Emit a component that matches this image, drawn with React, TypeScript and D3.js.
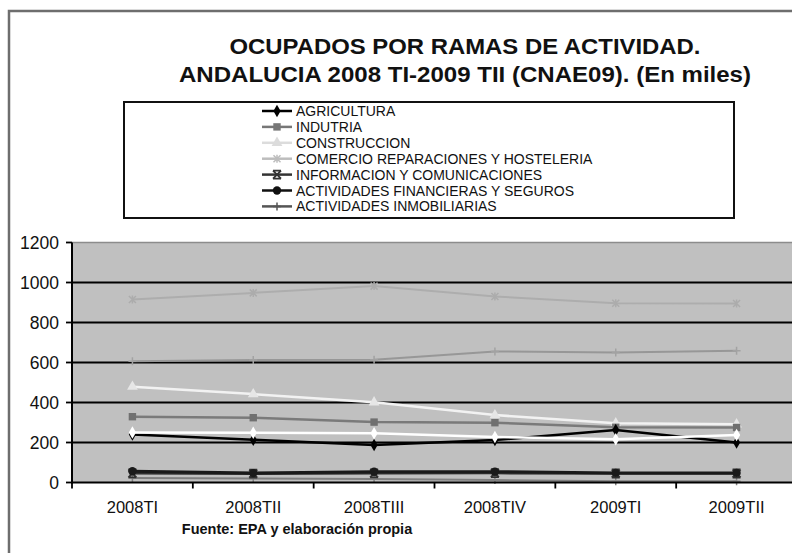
import React from 'react';
import * as d3 from 'd3';

const categories = ['2008TI', '2008TII', '2008TIII', '2008TIV', '2009TI', '2009TII'];
const agricultura = [240, 214, 188, 212, 262, 200];
const industria = [329, 324, 302, 299, 276, 275];
const construccion = [479, 442, 401, 337, 296, 291];
const comercio = [915, 948, 982, 930, 896, 895];
const informacion = [46, 44, 46, 47, 45, 45];
const financieras = [56, 47, 54, 54, 48, 48];
const inmobiliarias = [22, 20, 18, 12, 6, 6];
// series whose legend entries are cut off in the reference
const serieOculta1 = [606, 612, 614, 655, 650, 659];
const serieOculta2 = [250, 249, 246, 228, 216, 237];
const yTicks = [0, 200, 400, 600, 800, 1000, 1200];

const titleLines = ['OCUPADOS POR RAMAS DE ACTIVIDAD.', 'ANDALUCIA 2008 TI-2009 TII (CNAE09).  (En miles)'];
const sourceText = 'Fuente: EPA y elaboración propia';

type Marker = 'diamond' | 'square' | 'triangle' | 'star' | 'xbar' | 'circle' | 'plus';
interface Serie { name: string; values: number[]; stroke: string; fill: string; marker: Marker; width: number; legend: boolean; }

const series: Serie[] = [
  { name: 'COMERCIO REPARACIONES Y HOSTELERIA', values: comercio, stroke: '#adadad', fill: '#acacac', marker: 'star', width: 2, legend: true },
  { name: 'oculta1', values: serieOculta1, stroke: '#979797', fill: '#a2a2a2', marker: 'plus', width: 2, legend: false },
  { name: 'CONSTRUCCION', values: construccion, stroke: '#f2f2f2', fill: '#e6e6e6', marker: 'triangle', width: 2.5, legend: true },
  { name: 'INDUTRIA', values: industria, stroke: '#7a7a7a', fill: '#707070', marker: 'square', width: 2.5, legend: true },
  { name: 'AGRICULTURA', values: agricultura, stroke: '#000000', fill: '#000000', marker: 'diamond', width: 2.5, legend: true },
  { name: 'oculta2', values: serieOculta2, stroke: '#ffffff', fill: '#ffffff', marker: 'diamond', width: 2.5, legend: false },
  { name: 'ACTIVIDADES INMOBILIARIAS', values: inmobiliarias, stroke: '#808080', fill: '#808080', marker: 'plus', width: 2, legend: true },
  { name: 'INFORMACION Y COMUNICACIONES', values: informacion, stroke: '#303030', fill: '#303030', marker: 'xbar', width: 2.5, legend: true },
  { name: 'ACTIVIDADES FINANCIERAS Y SEGUROS', values: financieras, stroke: '#1a1a1a', fill: '#1a1a1a', marker: 'circle', width: 3, legend: true },
];

const legendOrder = ['AGRICULTURA', 'INDUTRIA', 'CONSTRUCCION', 'COMERCIO REPARACIONES Y HOSTELERIA', 'INFORMACION Y COMUNICACIONES', 'ACTIVIDADES FINANCIERAS Y SEGUROS', 'ACTIVIDADES INMOBILIARIAS'];
const legendStroke: Record<string, string> = {
  'AGRICULTURA': '#000', 'INDUTRIA': '#777', 'CONSTRUCCION': '#dcdcdc', 'COMERCIO REPARACIONES Y HOSTELERIA': '#bdbdbd',
  'INFORMACION Y COMUNICACIONES': '#333', 'ACTIVIDADES FINANCIERAS Y SEGUROS': '#111', 'ACTIVIDADES INMOBILIARIAS': '#555',
};

function MarkerShape({ kind, x, y, color }: { kind: Marker; x: number; y: number; color: string }) {
  const t = `translate(${x},${y})`;
  switch (kind) {
    case 'diamond':
      return <path transform={t} d={d3.symbol().type(d3.symbolDiamond).size(45)() as string} fill={color} />;
    case 'square':
      return <path transform={t} d={d3.symbol().type(d3.symbolSquare).size(55)() as string} fill={color} />;
    case 'triangle':
      return <path transform={t} d={d3.symbol().type(d3.symbolTriangle).size(50)() as string} fill={color} />;
    case 'circle':
      return <path transform={t} d={d3.symbol().type(d3.symbolCircle).size(55)() as string} fill={color} />;
    case 'plus':
      return <path transform={t} d="M-4,0H4M0,-4V4" stroke={color} strokeWidth={1.5} fill="none" />;
    case 'star':
      return <path transform={t} d="M-3.5,-3.5L3.5,3.5M-3.5,3.5L3.5,-3.5M0,-4V4" stroke={color} strokeWidth={1.5} fill="none" />;
    case 'xbar':
      return <path transform={t} d="M-4,-4L4,4M-4,4L4,-4M-4,-4H4M-4,4H4" stroke={color} strokeWidth={1.8} fill="none" />;
  }
}

export default function App() {
  const W = 792, H = 553;
  const left = 72, right = 797, top = 242.5, bottom = 482.5;
  const x = d3.scaleBand<string>().domain(categories).range([left, right]);
  const y = d3.scaleLinear().domain([0, 1200]).range([bottom, top]);
  const cx = (c: string) => (x(c) as number) + x.bandwidth() / 2;
  const line = d3.line<number>().x((_, i) => cx(categories[i])).y(v => y(v));
  const font = 'Liberation Sans, Arial, sans-serif';

  const legendX = 124, legendY = 102, legendW = 610, legendH = 116;
  const rowY0 = 111, rowStep = 15.9;
  const titleLens = [471, 572];

  return (
    <svg width={W} height={H} style={{ position: 'absolute', left: 0, top: 0, display: 'block', background: '#fff' }} fontFamily={font}>
      <rect x={0} y={0} width={W} height={H} fill="#fff" />
      <rect x={9} y={11} width={W + 20} height={H + 20} fill="none" stroke="#6e6e6e" strokeWidth={2.5} />
      {titleLines.map((t, i) => (
        <text key={i} x={465} y={54 + i * 28} textAnchor="middle" fontSize={22.5} fontWeight="bold" fill="#111"
          textLength={titleLens[i]} lengthAdjust="spacingAndGlyphs">{t}</text>
      ))}
      {/* legend */}
      <rect x={legendX} y={legendY} width={legendW} height={legendH} fill="#fff" stroke="#111" strokeWidth={2} />
      {legendOrder.map((name, i) => {
        const s = series.find(d => d.name === name)!;
        const ry = rowY0 + i * rowStep;
        return (
          <g key={name}>
            <line x1={262} x2={292} y1={ry} y2={ry} stroke={legendStroke[name]} strokeWidth={2.5} />
            <MarkerShape kind={s.marker} x={277} y={ry} color={legendStroke[name]} />
            <text x={296} y={ry + 5} fontSize={14} fill="#111">{name}</text>
          </g>
        );
      })}
      {/* plot area */}
      <rect x={left} y={top} width={right - left} height={bottom - top} fill="#c0c0c0" />
      <line x1={left} x2={right} y1={top} y2={top} stroke="#8c8c8c" strokeWidth={1.5} />
      {yTicks.filter(v => v > 0 && v < 1200).map(v => (
        <line key={v} x1={left} x2={right} y1={y(v)} y2={y(v)} stroke="#000" strokeWidth={1.8} />
      ))}
      {series.map(s => (
        <g key={s.name}>
          <path d={line(s.values) as string} fill="none" stroke={s.stroke} strokeWidth={s.width} strokeLinejoin="round" />
          {s.values.map((v, i) => (
            <MarkerShape key={i} kind={s.marker} x={cx(categories[i])} y={y(v)} color={s.fill} />
          ))}
        </g>
      ))}
      {/* axes */}
      <line x1={left} x2={left} y1={top} y2={bottom + 1} stroke="#000" strokeWidth={2} />
      <line x1={left - 1} x2={right} y1={bottom} y2={bottom} stroke="#000" strokeWidth={2} />
      {yTicks.map(v => (
        <g key={v}>
          <line x1={left - 6} x2={left} y1={y(v)} y2={y(v)} stroke="#000" strokeWidth={1.8} />
          <text x={59} y={y(v) + 6} textAnchor="end" fontSize={17.5} fill="#111">{v}</text>
        </g>
      ))}
      {categories.map(c => (
        <g key={c}>
          <line x1={x(c) as number} x2={x(c) as number} y1={bottom} y2={bottom + 6} stroke="#000" strokeWidth={1.8} />
          <text x={cx(c)} y={513} textAnchor="middle" fontSize={16.5} fill="#111">{c}</text>
        </g>
      ))}
      <text x={297} y={534} textAnchor="middle" fontSize={14.5} fontWeight="bold" fill="#111">{sourceText}</text>
    </svg>
  );
}
